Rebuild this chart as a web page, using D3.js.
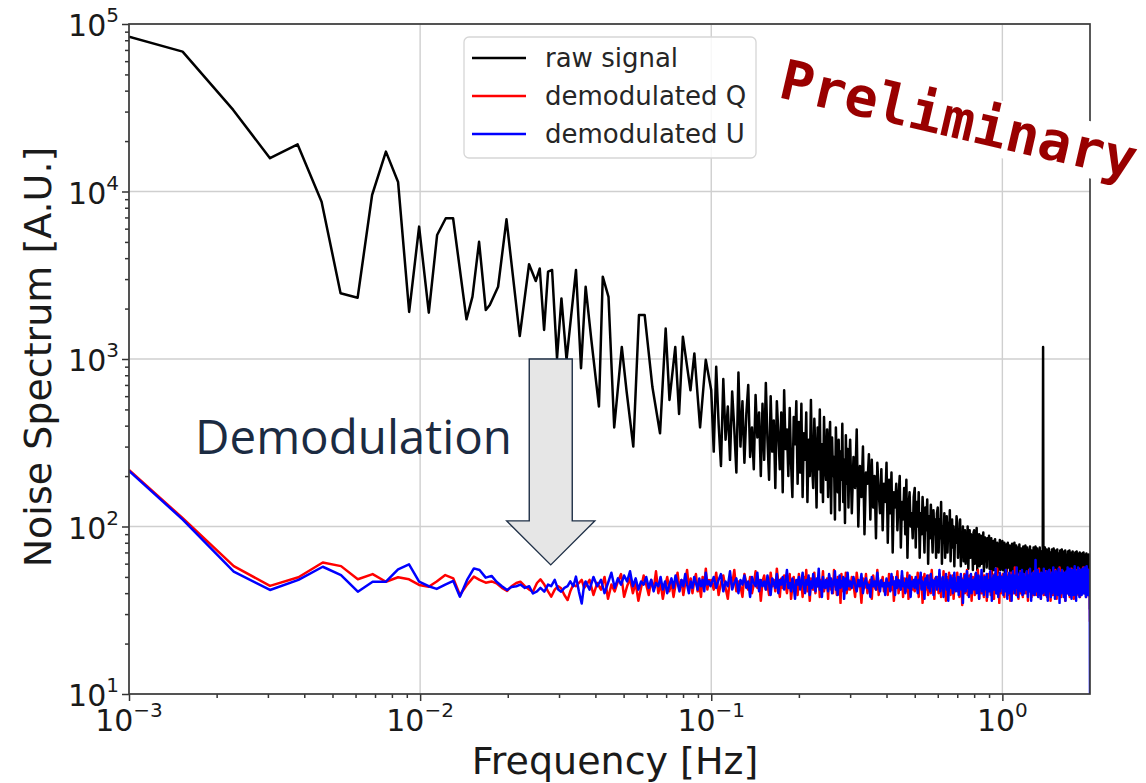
<!DOCTYPE html>
<html>
<head>
<meta charset="utf-8">
<script src="https://d3js.org/d3.v7.min.js"></script>
<style>
  body { margin: 0; background: #fff; }
</style>
</head>
<body>
<div id="chart"></div>
<script>
// ---- data ----
const seriesNames = ["raw signal", "demodulated Q", "demodulated U"];
const seriesColors = ["#000000", "#ff0000", "#0000ff"];

const xMajor = [1e-3, 1e-2, 1e-1, 1e0];
const yMajor = [1e1, 1e2, 1e3, 1e4, 1e5];

// raw signal, low-frequency part: [Hz] and [A.U.]
const rawLowFreq = [0.001, 0.001528, 0.00228, 0.00305, 0.003795, 0.004587, 0.00533, 0.0061, 0.00684, 0.00763,
  0.0084, 0.00917, 0.00992, 0.01071, 0.01144, 0.01225, 0.01298, 0.01443, 0.01513, 0.01594,
  0.01681, 0.01735, 0.01853, 0.0198, 0.02199, 0.02367, 0.02496, 0.02576, 0.02666, 0.02751,
  0.0284, 0.02953, 0.03058, 0.03184, 0.03431, 0.0357, 0.03703, 0.03874, 0.04114, 0.0424,
  0.04437, 0.04642, 0.04929, 0.0512, 0.05398, 0.05646, 0.05907, 0.06279, 0.06669, 0.06974, 0.07187,
  0.07524, 0.07754, 0.07991, 0.08484, 0.0875, 0.09154, 0.09575];
const rawLowVal = [84000, 68400, 30700, 15800, 19100, 8690, 2470, 2320, 9530, 17300,
  11400, 1910, 6170, 1890, 5500, 6920, 6920, 1725, 2355, 5010,
  1960, 2100, 2700, 6820, 1370, 3680, 2920, 3470, 1490, 3320,
  3400, 1010, 2300, 990, 3400, 880, 2700, 1300, 520, 3100,
  2350, 390, 1180, 640, 300, 1830, 1830, 680, 360, 1520, 570,
  1180, 470, 1360, 650, 1080, 390, 990];

// 0.1 - 0.3 Hz: bins every 0.002 Hz
const bandStart = 0.1;
const bandStep = 0.002;
const rawBand = [
  650, 280, 900, 410, 230, 760, 330, 520, 250, 640, 380, 210, 830, 300, 560, 240, 470, 700, 260, 390, 220, 610, 340, 480, 200,
  540, 250, 720, 330, 190, 600, 280, 430, 170, 560, 360, 220, 480, 160, 650, 290, 380, 200, 510, 240, 150, 450, 310, 560, 180,
  420, 210, 540, 150, 360, 250, 480, 140, 330, 200, 570, 230, 170, 440, 280, 130, 390, 220, 500, 160, 310, 140, 450, 240, 190,
  380, 150, 300, 420, 120, 340, 200, 260, 110, 390, 230, 160, 330, 125, 280, 190, 410, 140, 250, 105, 350, 180, 290, 130, 240];
const qBand = [
  48, 42, 53, 39, 46, 51, 43, 37, 49, 45, 55, 41, 47, 44, 38, 52, 46, 42, 50, 40, 45, 54, 43, 48, 36,
  47, 51, 42, 45, 39, 53, 44, 48, 41, 56, 46, 38, 49, 43, 51, 45, 40, 47, 52, 37, 44, 50, 42, 46, 39,
  52, 44, 47, 38, 50, 43, 55, 41, 46, 36, 49, 45, 42, 53, 40, 47, 44, 51, 38, 48, 45, 54, 41, 46, 43,
  49, 37, 51, 45, 42, 48, 40, 55, 44, 46, 39, 50, 43, 47, 35, 52, 45, 41, 49, 44, 53, 40, 46, 48, 42];
const uBand = [
  45, 50, 43, 48, 52, 41, 47, 44, 54, 42, 46, 49, 40, 48, 45, 51, 43, 47, 38, 50, 46, 44, 53, 41, 48,
  44, 47, 42, 51, 45, 39, 49, 46, 43, 52, 40, 48, 45, 50, 42, 47, 55, 43, 46, 41, 49, 44, 37, 48, 45,
  50, 42, 46, 53, 44, 40, 48, 45, 51, 39, 47, 43, 52, 46, 41, 49, 44, 56, 42, 47, 38, 50, 45, 43, 48,
  46, 41, 52, 44, 49, 40, 47, 45, 54, 42, 48, 39, 46, 51, 43, 47, 44, 50, 37, 45, 49, 42, 53, 46, 44];

// 0.3 - 2 Hz: bins every 0.004 Hz
const hfStart = 0.3;
const hfStep = 0.004;
const rawHigh = [
  330, 120, 260, 170, 380, 100, 230, 150, 300, 90, 210, 180, 270, 110, 250, 130, 200, 85, 240, 160, 120, 220, 95, 180, 140,
  240, 80, 190, 120, 210, 70, 160, 130, 180, 95, 150, 200, 75, 140, 110, 170, 90, 190, 65, 130, 160, 100, 120, 85, 150,
  170, 75, 140, 100, 160, 65, 120, 90, 150, 110, 70, 130, 95, 145, 60, 115, 85, 135, 100, 70, 125, 90, 110, 65, 120,
  130, 70, 110, 85, 140, 60, 100, 80, 120, 65, 95, 115, 70, 105, 85, 125, 62, 90, 110, 75, 100, 58, 95, 80, 115,
  105, 65, 95, 75, 110, 58, 90, 70, 100, 62, 85, 95, 60, 88, 72, 100, 56, 82, 95, 65, 90, 70, 80, 55, 92,
  95, 60, 85, 70, 98, 55, 80, 65, 90, 58, 75, 88, 60, 82, 68, 92, 54, 76, 86, 62, 80, 57, 85, 66, 78,
  88, 56, 80, 64, 85, 52, 74, 66, 82, 55, 72, 84, 58, 76, 62, 80, 53, 70, 78, 60, 83, 55, 74, 64, 79,
  82, 55, 75, 62, 80, 52, 70, 64, 78, 54, 68, 80, 57, 73, 60, 77, 52, 67, 75, 58, 79, 54, 70, 61, 76,
  80, 54, 72, 60, 77, 51, 68, 63, 75, 53, 66, 78, 56, 71, 59, 74, 51, 65, 73, 57, 76, 53, 69, 60, 74,
  77, 53, 70, 59, 75, 50, 66, 62, 73, 52, 65, 76, 55, 70, 58, 72, 50, 64, 72, 56, 75, 52, 68, 59, 73,
  76, 52, 69, 58, 74, 50, 65, 61, 72, 51, 64, 75, 54, 69, 57, 71, 50, 63, 70, 56, 1180, 52, 67, 58, 72,
  75, 51, 68, 57, 73, 49, 64, 60, 71, 51, 63, 74, 54, 68, 56, 70, 49, 62, 70, 55, 73, 51, 66, 58, 71,
  74, 50, 67, 56, 72, 49, 63, 59, 70, 50, 62, 73, 53, 67, 55, 69, 48, 61, 69, 54, 72, 50, 65, 57, 70,
  73, 50, 66, 55, 71, 48, 62, 58, 69, 49, 61, 72, 52, 66, 54, 68, 48, 60, 68, 53, 71, 49, 64, 56, 69,
  72, 49, 65, 55, 70, 47, 61, 57, 68, 49, 60, 71, 52, 65, 54, 67, 47, 60, 67, 53, 70, 49, 63, 55, 68,
  71, 48, 64, 54, 69, 47, 60, 57, 67, 48, 60, 70, 51, 64, 53, 66, 46, 59, 66, 52, 69, 48, 62, 55, 67,
  70, 48, 63, 53, 68, 46, 60, 56, 66, 48, 59, 69, 51, 63, 53, 65, 46, 58, 65, 52, 68, 48, 61, 54, 66,
  32];

// demodulated Q / U, low-frequency part
const demodLowFreq = [0.001, 0.00153, 0.00229, 0.00305, 0.00382, 0.00463, 0.00535, 0.00611, 0.00687, 0.00763,
  0.0084, 0.00916, 0.00992, 0.0107, 0.0114, 0.0122, 0.013, 0.0137, 0.0145, 0.0153,
  0.016, 0.0168, 0.0176, 0.0183, 0.0191, 0.0199, 0.0206, 0.0214, 0.0221, 0.0229,
  0.0237, 0.0244, 0.0252, 0.0259, 0.0267, 0.0275, 0.0282, 0.029, 0.0298, 0.0305,
  0.0313, 0.0321, 0.0328, 0.0336, 0.0343, 0.0351, 0.0359, 0.0366];
const qLow = [218, 112, 58, 44.2, 49.8, 61, 58, 48.4, 52, 46.8,
  49.8, 48.4, 44.8, 43.7, 47, 51.3, 49, 39, 45, 50.2,
  48, 46.2, 47, 45.8, 43, 41.2, 44, 46, 46.8, 44,
  42, 40.8, 46, 48.4, 45, 41, 38.1, 42, 44, 42.8,
  39, 36.4, 41, 45, 44, 46, 48, 43];
const uLow = [215, 110, 53.7, 41.8, 48, 57.5, 51.3, 40.8, 46.8, 46.8,
  55.5, 59.4, 46.8, 44, 42.4, 45, 47.3, 38.1, 48, 56.2,
  55, 49.5, 50.7, 46.8, 44, 41.8, 43.5, 44, 45, 43,
  44, 39.8, 41, 43, 40.8, 45, 44, 48, 42, 40.8,
  43, 44, 47, 44, 50.2, 41, 34.7, 45];

// 0.037 - 0.1 Hz: bins every 0.0012 Hz
const midStart = 0.037;
const midStep = 0.0012;
const qMid = [44, 48, 39, 46, 42, 50, 37, 45, 41, 47, 52, 38, 44, 49, 40, 46, 36, 43, 51, 45, 39, 48, 42, 54, 40, 46,
  37, 44, 50, 41, 47, 38, 45, 53, 42, 48, 39, 46, 55, 43, 49, 40, 47, 52, 41, 45, 38, 50, 44, 56, 42, 48, 45];
const uMid = [47, 42, 50, 44, 48, 40, 46, 53, 43, 49, 45, 51, 47, 54, 44, 49, 42, 47, 45, 50, 43, 48, 41, 46, 44, 50,
  42, 47, 40, 45, 49, 43, 51, 46, 41, 48, 44, 52, 45, 40, 47, 43, 50, 46, 42, 49, 44, 48, 41, 53, 45, 47, 44];

const qHigh = [
  42, 50, 45, 38, 53, 44, 47, 35, 49, 43, 52, 40, 46, 48, 37, 51, 44, 42, 55, 39, 47, 45, 50, 41, 44,
  48, 39, 52, 45, 42, 50, 36, 47, 44, 54, 40, 46, 43, 51, 38, 49, 45, 41, 53, 37, 47, 44, 50, 42, 46,
  41, 49, 45, 53, 38, 47, 43, 50, 35, 46, 52, 42, 48, 44, 39, 51, 45, 40, 55, 43, 47, 37, 49, 44, 50,
  45, 40, 52, 46, 38, 49, 43, 54, 41, 47, 36, 50, 44, 42, 53, 45, 39, 48, 46, 51, 37, 44, 49, 42, 47,
  53, 41, 46, 38, 50, 44, 47, 34, 49, 45, 52, 40, 47, 43, 55, 39, 46, 44, 51, 42, 48, 36, 45, 50, 43,
  47, 39, 52, 44, 48, 41, 55, 45, 37, 50, 43, 46, 40, 53, 44, 48, 38, 51, 45, 42, 49, 36, 47, 44, 52,
  42, 48, 45, 39, 54, 46, 41, 50, 44, 37, 52, 47, 43, 49, 40, 56, 45, 42, 48, 35, 46, 51, 44, 40, 49,
  45, 52, 41, 47, 38, 50, 44, 46, 55, 42, 48, 39, 51, 45, 43, 49, 36, 47, 53, 44, 41, 50, 46, 40, 48,
  44, 57, 42, 47, 39, 51, 45, 43, 49, 37, 46, 52, 44, 48, 40, 54, 45, 42, 50, 38, 47, 44, 51, 41, 46,
  49, 40, 53, 45, 43, 48, 36, 47, 44, 55, 41, 46, 50, 42, 48, 38, 52, 45, 43, 49, 39, 47, 54, 44, 46,
  42, 50, 45, 39, 53, 46, 41, 48, 44, 56, 40, 47, 43, 51, 37, 46, 49, 44, 52, 41, 48, 45, 39, 50, 44,
  47, 41, 54, 45, 43, 49, 38, 46, 52, 44, 40, 48, 45, 55, 42, 47, 36, 50, 44, 46, 41, 53, 45, 39, 48,
  44, 51, 42, 47, 39, 55, 45, 43, 49, 37, 46, 52, 44, 48, 41, 50, 45, 42, 57, 40, 47, 44, 51, 38, 46,
  49, 43, 46, 54, 41, 48, 44, 39, 52, 45, 47, 36, 50, 44, 42, 53, 46, 40, 48, 45, 55, 41, 47, 43, 50,
  45, 38, 52, 46, 43, 49, 41, 56, 44, 47, 39, 51, 45, 42, 48, 37, 53, 46, 44, 50, 40, 47, 55, 43, 49,
  44, 50, 41, 47, 45, 53, 39, 48, 44, 56, 42, 46, 38, 51, 45, 49, 43, 54, 40, 47, 45, 52, 41, 48, 57,
  43, 49, 46, 40, 55, 45, 48, 42, 53, 44, 38, 51, 47, 45, 56, 41, 49, 44, 52, 39, 48, 46, 54, 42, 50,
  27];
const uHigh = [
  47, 43, 50, 45, 41, 48, 44, 52, 40, 46, 49, 43, 45, 38, 50, 44, 47, 42, 53, 45, 41, 48, 44, 46, 39,
  49, 44, 46, 41, 52, 45, 47, 39, 50, 43, 48, 45, 42, 54, 44, 46, 40, 49, 45, 43, 51, 38, 47, 44, 48,
  43, 50, 45, 40, 48, 46, 53, 42, 47, 44, 37, 49, 45, 51, 43, 46, 41, 52, 44, 48, 39, 47, 45, 50, 42,
  48, 44, 55, 41, 46, 43, 50, 38, 47, 45, 52, 42, 48, 36, 46, 44, 51, 43, 49, 40, 47, 53, 44, 41, 46,
  44, 50, 39, 47, 45, 52, 42, 48, 35, 46, 44, 51, 41, 47, 54, 43, 49, 38, 46, 45, 52, 40, 48, 44, 47,
  42, 49, 45, 53, 40, 47, 44, 51, 37, 46, 48, 43, 55, 41, 47, 45, 39, 50, 44, 46, 42, 52, 38, 48, 45,
  47, 41, 54, 44, 49, 36, 46, 45, 51, 42, 48, 44, 56, 40, 47, 43, 50, 38, 46, 45, 53, 41, 48, 44, 50,
  43, 48, 39, 52, 45, 47, 41, 55, 44, 46, 37, 50, 45, 43, 53, 40, 48, 46, 51, 36, 47, 44, 54, 42, 49,
  45, 40, 51, 46, 43, 57, 44, 48, 38, 50, 45, 42, 53, 47, 41, 49, 44, 55, 39, 46, 45, 52, 40, 48, 44,
  50, 42, 47, 54, 43, 46, 38, 51, 45, 49, 41, 56, 44, 47, 36, 50, 45, 43, 53, 40, 48, 46, 52, 39, 47,
  63, 44, 51, 41, 48, 45, 55, 38, 47, 44, 52, 42, 49, 45, 37, 53, 46, 43, 50, 40, 48, 45, 56, 41, 47,
  44, 52, 39, 48, 46, 54, 42, 47, 36, 50, 45, 43, 55, 41, 48, 44, 51, 38, 47, 45, 53, 40, 49, 44, 57,
  42, 48, 45, 51, 37, 47, 44, 54, 41, 49, 45, 52, 39, 46, 44, 56, 42, 48, 35, 50, 45, 43, 53, 40, 47,
  45, 55, 41, 48, 44, 51, 38, 47, 46, 53, 42, 49, 36, 46, 45, 54, 41, 48, 44, 57, 40, 47, 45, 52, 39,
  48, 44, 56, 42, 47, 45, 52, 37, 49, 44, 55, 41, 48, 46, 53, 39, 47, 45, 58, 42, 49, 44, 51, 36, 48,
  45, 54, 41, 47, 44, 57, 40, 49, 46, 52, 38, 48, 45, 55, 42, 47, 44, 53, 39, 50, 46, 56, 41, 48, 45,
  52, 40, 49, 46, 57, 42, 48, 44, 54, 38, 47, 45, 58, 41, 49, 46, 53, 39, 48, 45, 55, 42, 50, 44, 47,
  10];

// ---- build series ----
const zip = (fs, vs) => fs.map((f, i) => [f, vs[i]]);
const bins = (start, step, vs) => vs.map((v, i) => [start + i * step, v]);

const rawData = zip(rawLowFreq, rawLowVal).concat(
  bins(bandStart, bandStep, rawBand), bins(hfStart, hfStep, rawHigh));
const qData = zip(demodLowFreq, qLow).concat(
  bins(midStart, midStep, qMid), bins(bandStart, bandStep, qBand), bins(hfStart, hfStep, qHigh));
const uData = zip(demodLowFreq, uLow).concat(
  bins(midStart, midStep, uMid), bins(bandStart, bandStep, uBand), bins(hfStart, hfStep, uHigh));
const allSeries = [rawData, qData, uData];

// ---- chart ----
const width = 1146, height = 783;
const plot = { left: 129, right: 1090, top: 24, bottom: 694 };
const sans = "'DejaVu Sans', sans-serif";

const svg = d3.select("#chart").append("svg")
  .attr("width", width).attr("height", height)
  .style("background", "#fff")
  .style("font-family", sans);

const x = d3.scaleLog().domain([1e-3, 2]).range([plot.left, plot.right]);
const y = d3.scaleLog().domain([1e1, 1e5]).range([plot.bottom, plot.top]);

const minors = (lo, hi) => {
  const out = [];
  for (let e = Math.floor(Math.log10(lo)); e <= Math.ceil(Math.log10(hi)); e++) {
    for (let m = 2; m <= 9; m++) {
      const v = m * Math.pow(10, e);
      if (v > lo && v < hi) out.push(v);
    }
  }
  return out;
};

// grid
const gridG = svg.append("g").attr("id", "grid-g");
gridG.selectAll(".gx").data(xMajor).join("line")
  .attr("x1", (d) => x(d)).attr("x2", (d) => x(d))
  .attr("y1", plot.top).attr("y2", plot.bottom)
  .attr("stroke", "#cfcfcf").attr("stroke-width", 1.4);
gridG.selectAll(".gy").data(yMajor).join("line")
  .attr("x1", plot.left).attr("x2", plot.right)
  .attr("y1", (d) => y(d)).attr("y2", (d) => y(d))
  .attr("stroke", "#cfcfcf").attr("stroke-width", 1.4);

// lines
svg.append("clipPath").attr("id", "plot-clip").append("rect")
  .attr("x", plot.left).attr("y", plot.top)
  .attr("width", plot.right - plot.left).attr("height", plot.bottom - plot.top);

const line = d3.line().x((d) => x(d[0])).y((d) => y(d[1]));
const linesG = svg.append("g").attr("id", "lines-g").attr("clip-path", "url(#plot-clip)");
linesG.selectAll("path").data(allSeries).join("path")
  .attr("d", line)
  .attr("fill", "none")
  .attr("stroke", (d, i) => seriesColors[i])
  .attr("stroke-width", 2.5)
  .attr("stroke-linejoin", "round");

// axes (ticks only, labels drawn separately)
const axisColor = "#333";
const xAxisG = svg.append("g").attr("id", "x-axis-g").attr("transform", `translate(0,${plot.bottom})`);
xAxisG.call(d3.axisBottom(x).tickValues(xMajor).tickSize(7).tickSizeOuter(0).tickFormat(""));
xAxisG.append("g").call(d3.axisBottom(x).tickValues(minors(1e-3, 2)).tickSize(4).tickSizeOuter(0).tickFormat(""));
const yAxisG = svg.append("g").attr("id", "y-axis-g").attr("transform", `translate(${plot.left},0)`);
yAxisG.call(d3.axisLeft(y).tickValues(yMajor).tickSize(7).tickSizeOuter(0).tickFormat(""));
yAxisG.append("g").call(d3.axisLeft(y).tickValues(minors(1e1, 1e5)).tickSize(4).tickSizeOuter(0).tickFormat(""));
svg.selectAll("#x-axis-g .domain, #y-axis-g .domain").remove();
svg.selectAll("#x-axis-g line, #y-axis-g line").attr("stroke", axisColor).attr("stroke-width", 1.5);

// frame
svg.append("rect")
  .attr("x", plot.left).attr("y", plot.top)
  .attr("width", plot.right - plot.left).attr("height", plot.bottom - plot.top)
  .attr("fill", "none").attr("stroke", "#3c3c3c").attr("stroke-width", 1.7);

const expText = (e) => (e < 0 ? "\u2212" + -e : String(e));
const powLabel = (sel, e) => {
  sel.append("tspan").text("10");
  sel.append("tspan").attr("font-size", 20).attr("dy", -14).text(expText(e));
};

svg.append("g").selectAll("text").data(xMajor).join("text")
  .attr("x", (d) => x(d)).attr("y", plot.bottom + 37)
  .attr("text-anchor", "middle").attr("font-size", 30).attr("fill", "#1a1a1a")
  .style("font-family", sans)
  .each(function (d) { powLabel(d3.select(this), Math.round(Math.log10(d))); });

svg.append("g").selectAll("text").data(yMajor).join("text")
  .attr("x", plot.left - 10).attr("y", (d) => y(d) + 12)
  .attr("text-anchor", "end").attr("font-size", 30).attr("fill", "#1a1a1a")
  .style("font-family", sans)
  .each(function (d) { powLabel(d3.select(this), Math.round(Math.log10(d))); });

// axis titles
svg.append("text")
  .attr("x", 615).attr("y", 774)
  .attr("text-anchor", "middle").attr("font-size", 38).attr("fill", "#1a1a1a")
  .style("font-family", sans)
  .text("Frequency [Hz]");
svg.append("text")
  .attr("transform", `translate(51,357) rotate(-90)`)
  .attr("text-anchor", "middle").attr("font-size", 38).attr("fill", "#1a1a1a")
  .style("font-family", sans)
  .text("Noise Spectrum [A.U.]");

// legend
const legendG = svg.append("g").attr("id", "legend-g").attr("transform", "translate(464,37)");
legendG.append("rect")
  .attr("width", 292).attr("height", 121).attr("rx", 5)
  .attr("fill", "#fff").attr("fill-opacity", 0.85)
  .attr("stroke", "#d6d6d6").attr("stroke-width", 1.3);
const item = legendG.selectAll(".item").data(seriesNames).join("g")
  .attr("transform", (d, i) => `translate(0,${21 + i * 38})`);
item.append("line").attr("x1", 8).attr("x2", 62)
  .attr("stroke", (d, i) => seriesColors[i]).attr("stroke-width", 2.4);
item.append("text").attr("x", 81).attr("dy", "0.36em")
  .attr("font-size", 26).attr("fill", "#262626")
  .style("font-family", sans)
  .text((d) => d);

// demodulation arrow (anchored in data coordinates)
const arrowF = 0.0281, arrowTop = 1000, arrowNeck = 108, arrowTip = 59;
const ax = x(arrowF), shaft = 21.5, head = 44;
const arrowPath = d3.path();
arrowPath.moveTo(ax - shaft, y(arrowTop));
arrowPath.lineTo(ax + shaft, y(arrowTop));
arrowPath.lineTo(ax + shaft, y(arrowNeck));
arrowPath.lineTo(ax + head, y(arrowNeck));
arrowPath.lineTo(ax, y(arrowTip));
arrowPath.lineTo(ax - head, y(arrowNeck));
arrowPath.lineTo(ax - shaft, y(arrowNeck));
arrowPath.closePath();
svg.append("path").attr("d", arrowPath.toString())
  .attr("fill", "#e6e6e6").attr("stroke", "#1f3047").attr("stroke-width", 1.4);

svg.append("text")
  .attr("x", 195).attr("y", 454)
  .attr("font-size", 47.5)
  .style("font-family", "'Open Sans', sans-serif")
  .attr("fill", "#1b2b42").text("Demodulation");

// "Preliminary" stamp
const stampG = svg.append("g").attr("transform", "translate(777,97) rotate(13)");
const stampBg = stampG.append("rect").attr("fill", "#fff");
const stamp = stampG.append("text")
  .style("font-family", "'DejaVu Sans Mono', monospace").attr("font-weight", "bold")
  .attr("font-size", 55).attr("fill", "#990000").text("Preliminary");
const bb = stamp.node().getBBox();
stampBg.attr("x", bb.x - 4).attr("y", bb.y + 4).attr("width", bb.width + 8).attr("height", bb.height - 8);
</script>
</body>
</html>
